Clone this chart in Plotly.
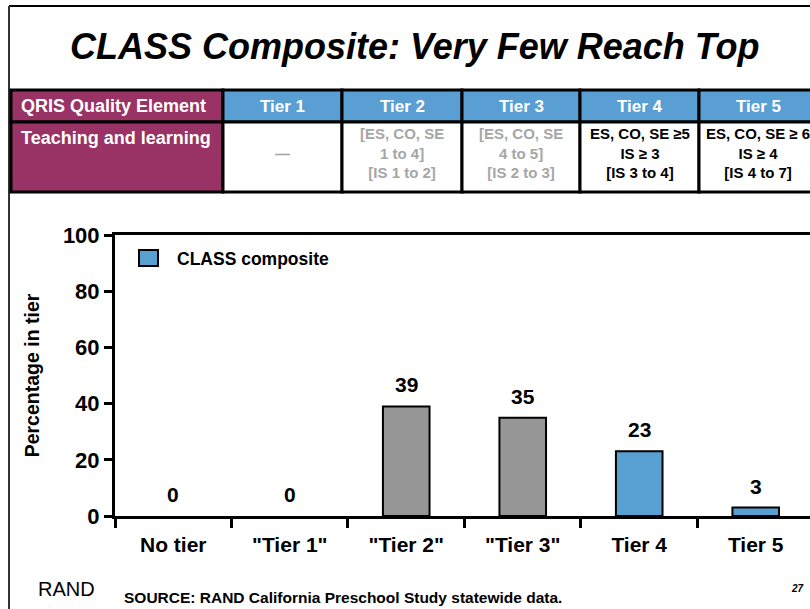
import plotly.graph_objects as go

# chart data
categories = ["No tier", '"Tier 1"', '"Tier 2"', '"Tier 3"', "Tier 4", "Tier 5"]
pct_in_tier = [0, 0, 39, 35, 23, 3]
below_tier4 = [True, True, True, True, False, False]

# requirements table shown above the chart
table_header = ["QRIS Quality Element", "Tier 1", "Tier 2", "Tier 3", "Tier 4", "Tier 5"]
table_row = [
    "Teaching and learning",
    "—",
    "[ES, CO, SE<br>1 to 4]<br>[IS 1 to 2]",
    "[ES, CO, SE<br>4 to 5]<br>[IS 2 to 3]",
    "ES, CO, SE ≥5<br>IS ≥ 3<br>[IS 3 to 4]",
    "ES, CO, SE ≥ 6<br>IS ≥ 4<br>[IS 4 to 7]",
]
row_muted = [False, True, True, True, False, False]

GREY = "#969696"
BLUE = "#58A0D2"
MAROON = "#993366"
HEAD_BLUE = "#5A9FD3"
FONT = "Liberation Sans, Arial, sans-serif"

W, H = 810, 609
L, R, T, B = 115, 810, 235, 516  # plot area in pixels


def fx(px):
    return (px - L) / (R - L)


def fy(py):
    return (B - py) / (B - T)


def note(px, py, text, size, color="black", xanchor="center"):
    # paper-referenced text placed by pixel position
    fig.add_annotation(xref="paper", yref="paper", x=fx(px), y=fy(py), text=text, showarrow=False,
                       xanchor=xanchor, yanchor="middle", font=dict(size=size, color=color, family=FONT))


# zero-height bars have no visible box in the original
grey_vals = [v if (m and v > 0) else None for v, m in zip(pct_in_tier, below_tier4)]
blue_vals = [None if (m or v == 0) else v for v, m in zip(pct_in_tier, below_tier4)]

fig = go.Figure()
fig.add_trace(go.Bar(x=categories, y=grey_vals, marker=dict(color=GREY, line=dict(color="black", width=2)),
                     width=0.4, showlegend=False, hoverinfo="skip"))
fig.add_trace(go.Bar(x=categories, y=blue_vals, name="CLASS composite",
                     marker=dict(color=BLUE, line=dict(color="black", width=2)),
                     width=0.4, showlegend=False))

# value labels
for c, v in zip(categories, pct_in_tier):
    fig.add_annotation(x=c, y=v, text=f"<b>{v}</b>", showarrow=False, xanchor="center", yanchor="bottom",
                       yshift=8, font=dict(size=21, color="black", family=FONT))

shapes = []
# slide frame
shapes.append(dict(type="line", xref="paper", yref="paper", x0=fx(9), x1=fx(812), y0=fy(6), y1=fy(6),
                   line=dict(color="black", width=2)))
shapes.append(dict(type="line", xref="paper", yref="paper", x0=fx(9), x1=fx(9), y0=fy(6), y1=fy(612),
                   line=dict(color="#333333", width=2)))

# table
col_edges = [11, 223, 342, 462, 580, 699, 817]
row_edges = [90, 122, 192]
for i in range(6):
    x0, x1 = col_edges[i], col_edges[i + 1]
    head_fill = MAROON if i == 0 else HEAD_BLUE
    body_fill = MAROON if i == 0 else "white"
    shapes.append(dict(type="rect", xref="paper", yref="paper", x0=fx(x0), x1=fx(x1), y0=fy(row_edges[0]),
                       y1=fy(row_edges[1]), fillcolor=head_fill, line=dict(color="black", width=3)))
    shapes.append(dict(type="rect", xref="paper", yref="paper", x0=fx(x0), x1=fx(x1), y0=fy(row_edges[1]),
                       y1=fy(row_edges[2]), fillcolor=body_fill, line=dict(color="black", width=3)))
    if i == 0:
        note(19, 106, f"<b>{table_header[i]}</b>", 18, "white", "left")
        note(19, 138, f"<b>{table_row[i]}</b>", 18, "white", "left")
    else:
        cx = (x0 + x1) / 2
        note(cx, 106, f"<b>{table_header[i]}</b>", 17, "white")
        note(cx, 153, f"<b>{table_row[i]}</b>", 15, "#A6A6A6" if row_muted[i] else "black")

# legend box
shapes.append(dict(type="rect", xref="paper", yref="paper", x0=fx(139), x1=fx(158), y0=fy(250), y1=fy(266),
                   fillcolor=BLUE, line=dict(color="black", width=2)))
note(175, 259, "<b>CLASS composite</b>", 17.5, xanchor="left")

# title, footer
note(414, 47, "<b><i>CLASS Composite: Very Few Reach Top</i></b>", 36)
note(36, 589, "RAND", 20, xanchor="left")
note(122, 597, "<b>SOURCE: RAND California Preschool Study statewide data.</b>", 15.5, xanchor="left")
note(797, 588, "<b><i>27</i></b>", 10)

fig.update_layout(
    width=W, height=H,
    margin=dict(l=L, r=W - R, t=T, b=H - B, pad=0),
    paper_bgcolor="white", plot_bgcolor="white",
    barmode="overlay", bargap=0.6,
    font=dict(family=FONT, color="black"),
    shapes=shapes,
)
fig.update_xaxes(range=[-0.5, 5.466], showline=True, linecolor="black", linewidth=3, mirror=True,
                 ticks="outside", tickson="boundaries", ticklen=9, tickwidth=3, tickcolor="black",
                 showgrid=False, tickfont=dict(size=21, family=FONT), ticklabelstandoff=8,
                 tickprefix="<b>", ticksuffix="</b>")
fig.update_yaxes(range=[0, 100], dtick=20, showline=True, linecolor="black", linewidth=3,
                 ticks="outside", ticklen=8, tickwidth=3, tickcolor="black", showgrid=False, zeroline=False,
                 tickfont=dict(size=22, family=FONT), tickprefix="<b>", ticksuffix="</b>",
                 title=dict(text="<b>Percentage in tier</b>", font=dict(size=19.5, family=FONT), standoff=19))

fig.write_html("out.html", config={"displayModeBar": False},
               post_script="document.body.style.margin='0';")
